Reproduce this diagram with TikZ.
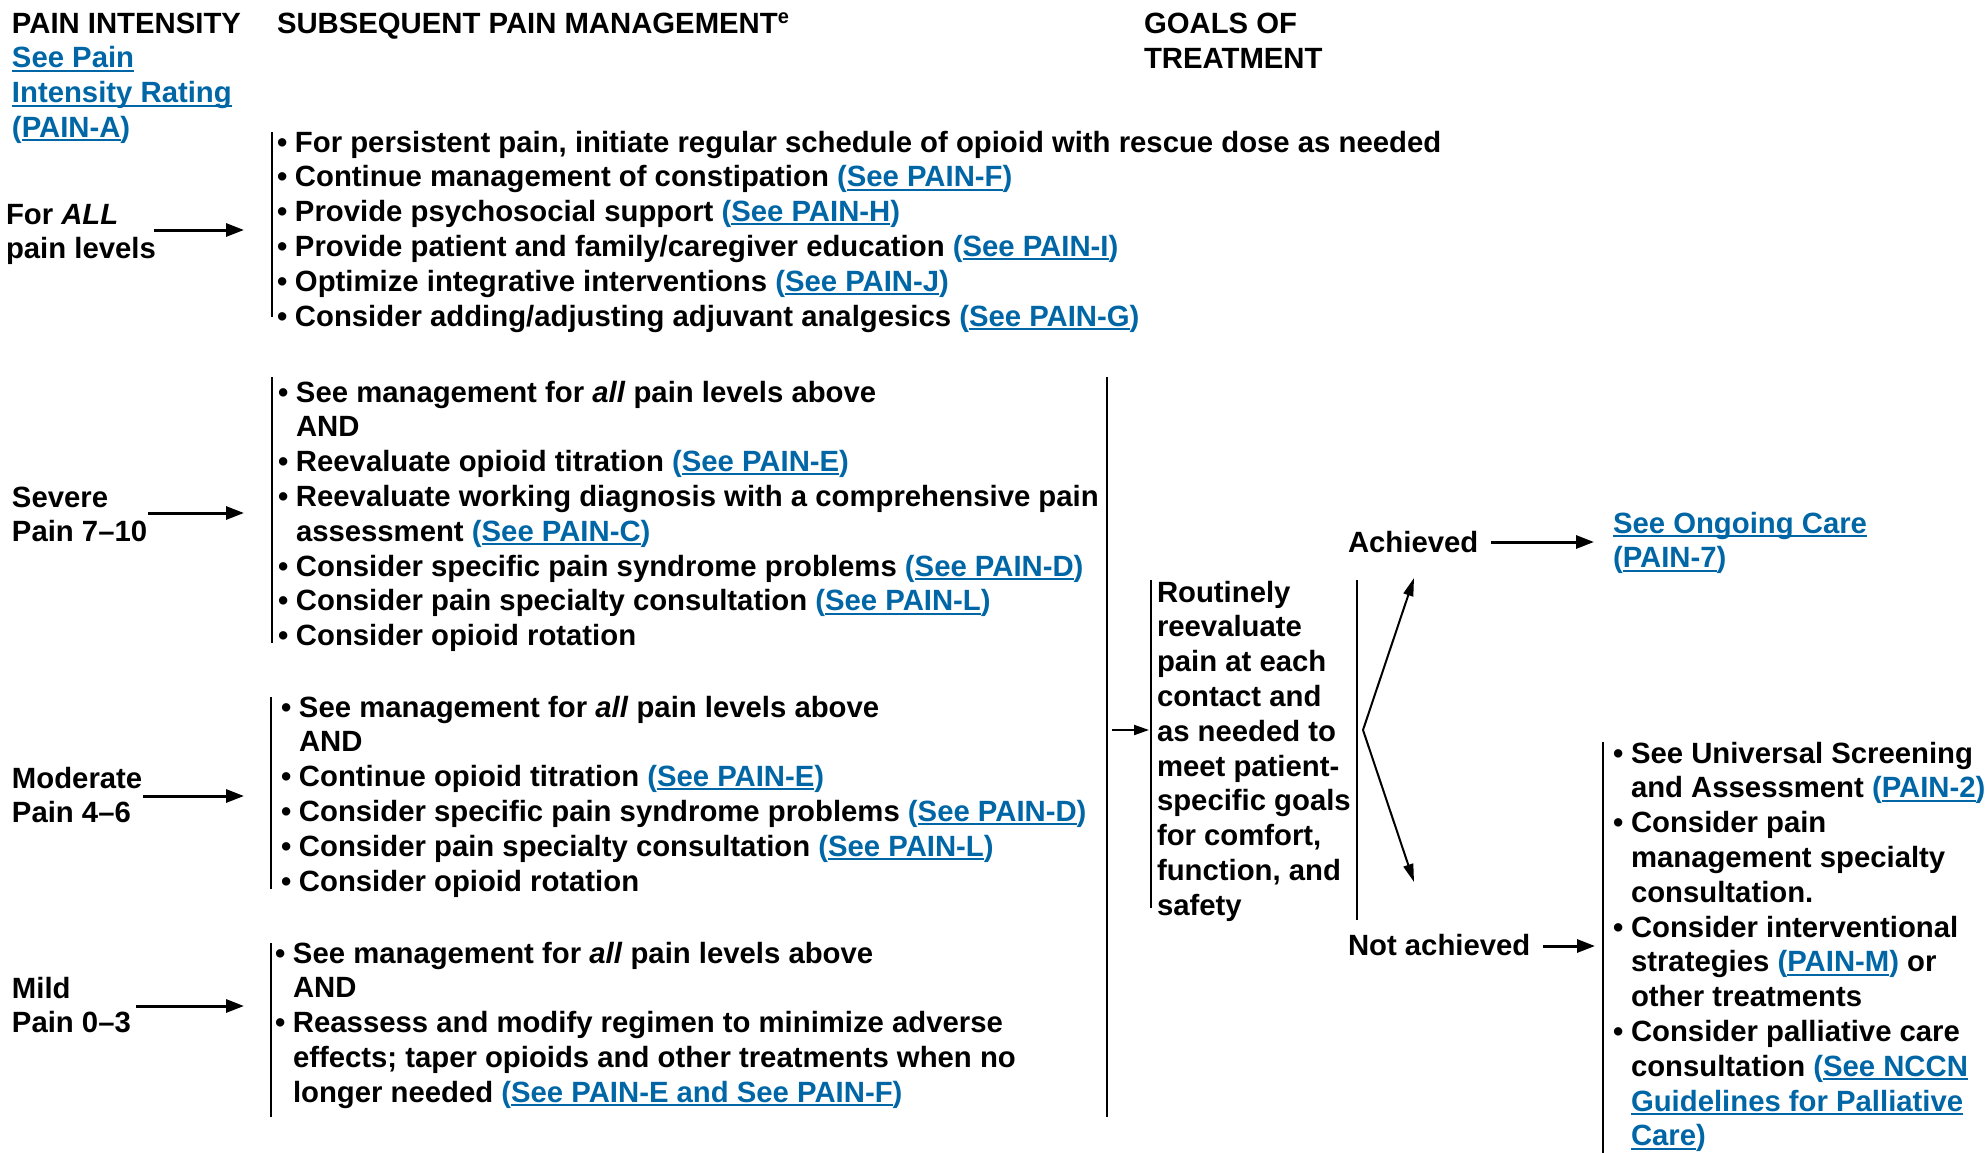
\documentclass[tikz,border=0pt]{standalone}
\usepackage{fontspec}
\setmainfont{Liberation Sans}
\usetikzlibrary{arrows.meta}
\definecolor{lb}{RGB}{0,102,166}
\newlength\bw \setlength\bw{18pt}
\newcommand\ulx[1]{\setbox0\hbox{#1}\rlap{\rule[-3.8pt]{\wd0}{2pt}}\box0}
\newcommand\lk[1]{{\color{lb}(\ulx{#1})}}
\newcommand\bul{\makebox[\bw][l]{•}}
\newcommand\ind{\hspace*{\bw}}
\newcommand\tb[1]{\begin{tabular}[t]{@{}l@{}}#1\end{tabular}}
\newcommand\supe{\raisebox{10pt}{\fontsize{20}{20}\selectfont e}}
\tikzset{
  txt/.style={inner sep=0pt, outer sep=0pt, anchor=base west, font=\fontsize{29.3}{34.8}\selectfont\bfseries},
  bar/.style={line width=2pt},
  arr/.style={line width=3pt, -{Triangle[length=18pt,width=13pt]}},
  sarr/.style={line width=2pt, -{Triangle[length=15pt,width=10pt]}},
  farr/.style={line width=2pt, -{Triangle[length=18pt,width=10pt]}}
}
\begin{document}
\begin{tikzpicture}[x=1pt,y=-1pt]
\useasboundingbox (0,0) rectangle (1988,1153);
% headers
\node[txt] (hpi) at (12,34) {PAIN INTENSITY};
\node[txt] (hsr) at (12,68) {\tb{{\color{lb}\ulx{See Pain}}\\ {\color{lb}\ulx{Intensity Rating}}\\ \lk{PAIN-A}}};
\node[txt] (hsub) at (277,34) {SUBSEQUENT PAIN MANAGEMENT\supe};
\node[txt] (hgoal) at (1144,34) {\tb{GOALS OF\\ TREATMENT}};
% left labels
\node[txt] (lall) at (6,224) {\tb{For \textit{ALL}\\ pain levels}};
\node[txt] (lsev) at (12,507) {\tb{Severe\\ Pain 7–10}};
\node[txt] (lmod) at (12,788) {\tb{Moderate\\ Pain 4–6}};
\node[txt] (lmild) at (12,998) {\tb{Mild\\ Pain 0–3}};
% groups
\node[txt] (g1) at (277,152) {\tb{%
\bul For persistent pain, initiate regular schedule of opioid with rescue dose as needed\\
\bul Continue management of constipation \lk{See PAIN-F}\\
\bul Provide psychosocial support \lk{See PAIN-H}\\
\bul Provide patient and family/caregiver education \lk{See PAIN-I}\\
\bul Optimize integrative interventions \lk{See PAIN-J}\\
\bul Consider adding/adjusting adjuvant analgesics \lk{See PAIN-G}}};
\node[txt] (g2) at (278,402) {\tb{%
\bul See management for \textit{all} pain levels above\\
\ind AND\\
\bul Reevaluate opioid titration \lk{See PAIN-E}\\
\bul Reevaluate working diagnosis with a comprehensive pain\\
\ind assessment \lk{See PAIN-C}\\
\bul Consider specific pain syndrome problems \lk{See PAIN-D}\\
\bul Consider pain specialty consultation \lk{See PAIN-L}\\
\bul Consider opioid rotation}};
\node[txt] (g3) at (281,717) {\tb{%
\bul See management for \textit{all} pain levels above\\
\ind AND\\
\bul Continue opioid titration \lk{See PAIN-E}\\
\bul Consider specific pain syndrome problems \lk{See PAIN-D}\\
\bul Consider pain specialty consultation \lk{See PAIN-L}\\
\bul Consider opioid rotation}};
\node[txt] (g4) at (275,963) {\tb{%
\bul See management for \textit{all} pain levels above\\
\ind AND\\
\bul Reassess and modify regimen to minimize adverse\\
\ind effects; taper opioids and other treatments when no\\
\ind longer needed \lk{See PAIN-E and See PAIN-F}}};
% goals box
\node[txt] (rout) at (1157,602) {\tb{Routinely\\ reevaluate\\ pain at each\\ contact and\\ as needed to\\ meet patient-\\ specific goals\\ for comfort,\\ function, and\\ safety}};
\node[txt] (ach) at (1348,552) {Achieved};
\node[txt] (nach) at (1348,955) {Not achieved};
\node[txt] (ongo) at (1613,533) {\tb{{\color{lb}\ulx{See Ongoing Care}}\\ \lk{PAIN-7}}};
\node[txt] (rl) at (1613,763) {\tb{%
\bul See Universal Screening\\
\ind and Assessment \lk{PAIN-2}\\
\bul Consider pain\\
\ind management specialty\\
\ind consultation.\\
\bul Consider interventional\\
\ind strategies \lk{PAIN-M} or\\
\ind other treatments\\
\bul Consider palliative care\\
\ind consultation {\color{lb}(\ulx{See NCCN}}\\
\ind {\color{lb}\ulx{Guidelines for Palliative}}\\
\ind {\color{lb}\ulx{Care})}}};
% bars
\coordinate (b1t) at (272,132); \coordinate (b1b) at (272,317);
\coordinate (b2t) at (272,377); \coordinate (b2b) at (272,643);
\coordinate (b3t) at (271,697); \coordinate (b3b) at (271,889);
\coordinate (b4t) at (271,943); \coordinate (b4b) at (271,1117);
\coordinate (bbt) at (1107,377); \coordinate (bbb) at (1107,1117);
\coordinate (rlt) at (1151,580); \coordinate (rlb) at (1151,908);
\coordinate (rrt) at (1357,580); \coordinate (rrb) at (1357,920);
\coordinate (rbt) at (1603,742); \coordinate (rbb) at (1603,1153);
\foreach \a/\b in {b1t/b1b,b2t/b2b,b3t/b3b,b4t/b4b,bbt/bbb,rlt/rlb,rrt/rrb,rbt/rbb}
  \draw[bar] (\a) -- (\b);
% arrows
\coordinate (a1s) at (154,230); \coordinate (a1e) at (244,230);
\coordinate (a2s) at (148,513); \coordinate (a2e) at (244,513);
\coordinate (a3s) at (143,796); \coordinate (a3e) at (244,796);
\coordinate (a4s) at (136,1006); \coordinate (a4e) at (244,1006);
\draw[arr] (a1s) -- (a1e);
\draw[arr] (a2s) -- (a2e);
\draw[arr] (a3s) -- (a3e);
\draw[arr] (a4s) -- (a4e);
\coordinate (bs) at (1112,730); \coordinate (be) at (1149,730);
\draw[sarr] (bs) -- (be);
\coordinate (fork) at (1363,730);
\coordinate (fup) at (1414,578); \coordinate (fdn) at (1414,882);
\draw[farr] (fork) -- (fup);
\draw[farr] (fork) -- (fdn);
\coordinate (as) at (1491,542); \coordinate (ae) at (1594,542);
\draw[arr] (as) -- (ae);
\coordinate (ns) at (1543,946); \coordinate (ne) at (1595,946);
\draw[arr] (ns) -- (ne);
\end{tikzpicture}
\end{document}
